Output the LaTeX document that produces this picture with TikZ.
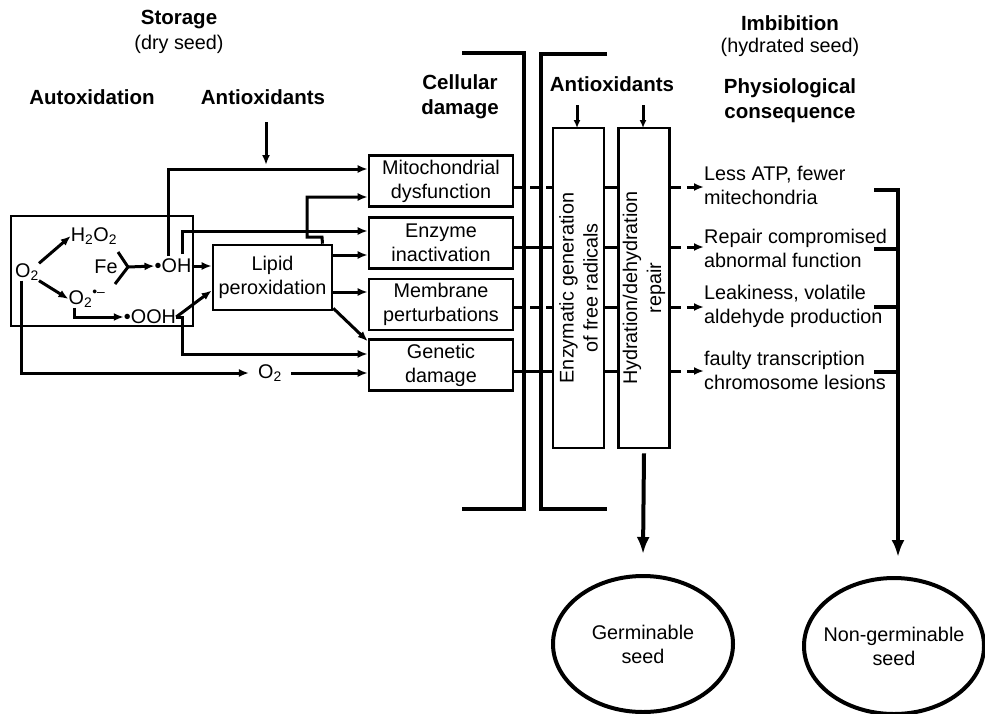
\documentclass[tikz,border=0pt]{standalone}
\usepackage{fontspec}
\setmainfont{Liberation Sans}
\usetikzlibrary{arrows.meta,shapes.geometric}
\tikzset{
	arr/.style={line width=3pt,-{Latex[length=10pt,width=8pt]}},
	bigarr/.style={line width=4pt,-{Latex[length=17pt,width=13pt]}},
	ln/.style={line width=3pt},
	dsh/.style={line width=3pt,dash pattern=on 10pt off 6pt},
	brk/.style={line width=4.5pt},
	hd/.style={font=\fontsize{20.5}{25}\selectfont\bfseries,align=center},
	dmgbox/.style={draw,line width=2.6pt,minimum width=144,minimum height=51,align=center},
	colbox/.style={draw,line width=2.6pt,rotate=90,minimum width=320,minimum height=51,align=center},
	seed/.style={draw,ellipse,line width=4pt,minimum width=180,minimum height=136},
}
\begin{document}
\begin{tikzpicture}[x=1pt,y=-1pt,font=\fontsize{19.8}{24}\selectfont,inner sep=0pt]
	\useasboundingbox (0,0) rectangle (985,713);
	% headings
	\node[hd] (storage) at (179,20) {Storage};
	\node (dry) at (179,44) {(dry seed)};
	\node[hd] (autox) at (92,97) {Autoxidation};
	\node[hd] (anti1) at (263,97) {Antioxidants};
	\node[hd] (cell) at (460,97) {Cellular\\damage};
	\node[hd] (anti2) at (612,84) {Antioxidants};
	\node[hd] (imb) at (790,23) {Imbibition};
	\node (wet) at (790,47) {(hydrated seed)};
	\node[hd] (phys) at (790,101) {Physiological\\consequence};

	% autoxidation
	\draw[line width=2.6pt] (11,216) rectangle (193,326);
	\node (o2a) at (27,272) {O\textsubscript{2}};
	\node (h2o2) at (94,236) {H\textsubscript{2}O\textsubscript{2}};
	\node (fe) at (106,267) {Fe};
	\node (oh) at (173,266) {•OH};
	\node (o2m) at (87,299) {O\textsubscript{2}\textsuperscript{•–}};
	\node (ooh) at (150,317) {•OOH};
	\node (o2b) at (270,373) {O\textsubscript{2}};
	\draw[arr] (o2a.north east) -- (h2o2.west);
	\draw[arr] (o2a.south east) -- (o2m.west);
	\draw[ln] (118,252) -- (128,267) -- (115,284);
	\draw[arr] (128,267) -- (oh.west);
	\draw[arr] ([xshift=6pt]o2m.south west) |- (ooh.west);

	% cellular damage
	\node[draw,line width=2.6pt,minimum width=119,minimum height=65,align=center] (lipid) at (272.5,277.5) {Lipid\\peroxidation};
	\node[dmgbox] (mito) at (441,181) {Mitochondrial\\dysfunction};
	\node[dmgbox] (enz) at (441,243) {Enzyme\\inactivation};
	\node[dmgbox] (memb) at (441,304.5) {Membrane\\perturbations};
	\node[dmgbox] (gen) at (441,365) {Genetic\\damage};

	\draw[arr] (266,122) -- (266,165);
	\draw[arr] (oh.east) -- (lipid.west |- oh.east);
	\draw[arr] (ooh.east) -- ([yshift=-13pt]lipid.west);
	\draw[arr] (168,256) |- (mito.west |- 0,169);
	\draw[arr] ([xshift=50pt]lipid.north) -- (322,237) -- (307,237) |- (mito.west |- 0,197);
	\draw[arr] (182,254) |- (enz.west |- 0,231);
	\draw[arr] (lipid.east |- 0,255) -- (enz.west |- 0,255);
	\draw[arr] (lipid.east |- 0,292) -- (memb.west |- 0,292);
	\draw[arr] ([yshift=3pt]lipid.south east) -- ([yshift=-3pt]gen.north west);
	\draw[arr] (ooh.east) -| (182,354) -- (gen.west |- 0,354);
	\draw[arr,shorten >=9pt] ([xshift=-6pt]o2a.south) |- (o2b.west);
	\draw[arr,shorten <=9pt] (o2b.east) -- (gen.west |- o2b.east);

	% storage / imbibition brackets
	\draw[brk] (462,53) -- (524,53) -- (524,509) -- (462,509);
	\draw[brk] (607,54) -- (541,54) -- (541,509) -- (607,509);

	% imbibition
	\node[colbox] (enzg) at (578.5,288) {Enzymatic generation\\of free radicals};
	\node[colbox] (repair) at (644,288) {Hydration/dehydration\\repair};
	\draw[arr,-{Latex[length=8pt,width=7pt]}] (577,105) -- (577,128);
	\draw[arr,-{Latex[length=8pt,width=7pt]}] (643,105) -- (643,128);

	\node[anchor=west,align=left] (c1) at (704,185) {Less ATP, fewer\\mitechondria};
	\node[anchor=west,align=left] (c2) at (704,248.5) {Repair compromised\\abnormal function};
	\node[anchor=west,align=left] (c3) at (704,306.5) {Leakiness, volatile\\aldehyde production};
	\node[anchor=west,align=left] (c4) at (704,370) {faulty transcription\\chromosome lesions};

	\foreach \bx/\yy/\st/\cq in {mito/187/dsh/c1,enz/247/ln/c2,memb/307/dsh/c3,gen/371/ln/c4}{
		\draw[\st] (\bx.east |- 0,\yy) -- (enzg.north |- 0,\yy);
		\draw[ln] (enzg.south |- 0,\yy) -- (repair.north |- 0,\yy);
		\draw[dsh,-{Latex[length=10pt,width=8pt]}] (repair.south |- 0,\yy) -- (\cq.west |- 0,\yy);
	}

	% outcome
	\foreach \yy in {190,249,307,372}
		\draw[brk] (874,\yy) -- (898,\yy);
	\draw[brk] (898,188) -- (898,530);
	\node[seed] (germ) at (643,644) {};
	\node[seed] (nongerm) at (894,646) {};
	\node[align=center] (germtxt) at (germ) {Germinable\\seed};
	\node[align=center] (nongermtxt) at (nongerm) {Non-germinable\\seed};
	\draw[bigarr] ([yshift=-4pt]repair.west) -- ([yshift=20pt]germ.north);
	\draw[bigarr] (898,520) -- ([yshift=19pt]nongerm.north -| 898,0);
\end{tikzpicture}
\end{document}
